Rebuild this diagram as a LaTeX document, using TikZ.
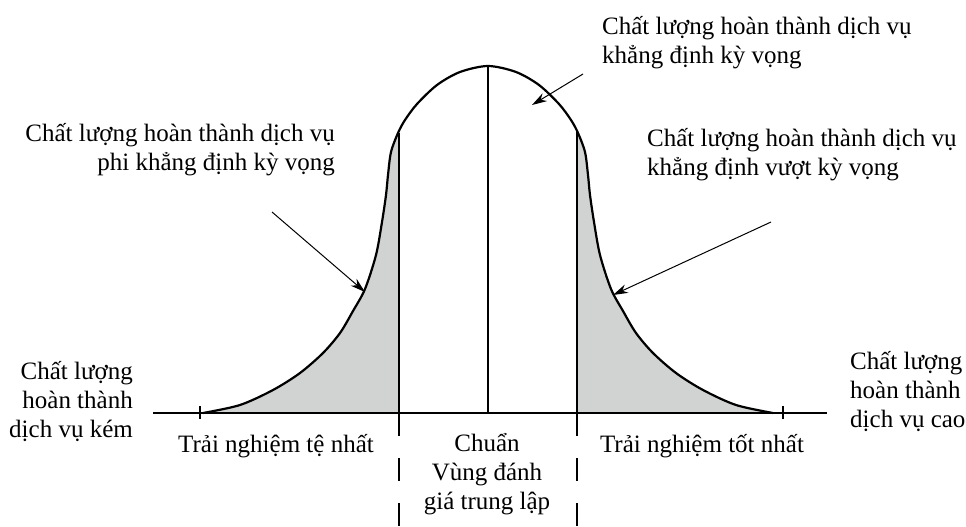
\documentclass[tikz,border=0pt]{standalone}
\usepackage{fontspec}
\setmainfont{Liberation Serif}
\usetikzlibrary{arrows.meta}
\definecolor{shadegray}{RGB}{209,210,210}
\tikzset{
  lbl/.style={font=\fontsize{25}{29}\selectfont, inner sep=0pt},
  curveline/.style={line width=2.2pt, line join=round},
  bar/.style={line width=2.2pt},
  sepline/.style={line width=2pt, dash pattern=on 23pt off 22pt},
  pointer/.style={line width=1pt, -{Stealth[length=15pt,width=9pt]}},
}
\begin{document}
\begin{tikzpicture}[x=1pt,y=-1pt]
\useasboundingbox (0,0) rectangle (966,527);

% shaded tails
\begin{scope}
\clip (0,0) rectangle (399,413) (577,0) rectangle (966,413);
\fill[shadegray] plot[smooth,tension=0.5] coordinates {(203,413) (240,405) (273,390) (300,373) (323,353) (340,333) (353,311) (365,289) (376,255) (382,222) (386,195) (388,175) (391,152) (398,133) (405,120) (417,104) (437,85) (460,72) (488,66) (516,72) (539,85) (559,104) (571,120) (578,133) (585,152) (588,175) (590,195) (594,222) (600,255) (611,289) (623,311) (636,333) (653,353) (676,373) (703,390) (736,405) (773,413)} -- cycle;
\end{scope}

% bell curve
\draw[curveline] plot[smooth,tension=0.5] coordinates {(203,413) (240,405) (273,390) (300,373) (323,353) (340,333) (353,311) (365,289) (376,255) (382,222) (386,195) (388,175) (391,152) (398,133) (405,120) (417,104) (437,85) (460,72) (488,66) (516,72) (539,85) (559,104) (571,120) (578,133) (585,152) (588,175) (590,195) (594,222) (600,255) (611,289) (623,311) (636,333) (653,353) (676,373) (703,390) (736,405) (773,413)};

% axis
\coordinate (axL) at (153,413);
\coordinate (axR) at (827,413);
\draw[bar] (axL) -- (axR);
\coordinate (t1a) at (200,406); \coordinate (t1b) at (200,419);
\coordinate (t2a) at (783,406); \coordinate (t2b) at (783,419);
\draw[bar] (t1a) -- (t1b);
\draw[bar] (t2a) -- (t2b);

% vertical bars
\coordinate (vLb) at (399,413); \coordinate (vLt) at (399,133);
\coordinate (vCb) at (488,413); \coordinate (vCt) at (488,66);
\coordinate (vRb) at (577,413); \coordinate (vRt) at (577,131);
\draw[bar] (vLb) -- (vLt);
\draw[bar] (vCb) -- (vCt);
\draw[bar] (vRb) -- (vRt);

% dashed separators
\coordinate (dL) at (399,527); \coordinate (dR) at (577,527);
\draw[sepline] (vLb) -- (dL);
\draw[sepline] (vRb) -- (dR);

% labels
\node[lbl, align=left, anchor=west] (top) at (602,43) {Chất lượng hoàn thành dịch vụ\\khẳng định kỳ vọng};
\node[lbl, align=right, anchor=east] (poor) at (335,150) {Chất lượng hoàn thành dịch vụ\\phi khẳng định kỳ vọng};
\node[lbl, align=left, anchor=west] (over) at (647,155) {Chất lượng hoàn thành dịch vụ\\khẳng định vượt kỳ vọng};
\node[lbl, align=right, anchor=east] (low) at (133,402) {Chất lượng\\hoàn thành\\dịch vụ kém};
\node[lbl, align=left, anchor=west] (high) at (850,392) {Chất lượng\\hoàn thành\\dịch vụ cao};
\node[lbl] (worst) at (276,446) {Trải nghiệm tệ nhất};
\node[lbl] (best) at (702,446) {Trải nghiệm tốt nhất};
\node[lbl, align=center] (norm) at (487,474) {Chuẩn\\Vùng đánh\\giá trung lập};

% pointers
\coordinate (p1s) at (583,74); \coordinate (p1e) at (532,105);
\coordinate (p2s) at (272,212); \coordinate (p2e) at (365,292);
\coordinate (p3s) at (771,222); \coordinate (p3e) at (613,295);
\draw[pointer] (p1s) -- (p1e);
\draw[pointer] (p2s) -- (p2e);
\draw[pointer] (p3s) -- (p3e);
\end{tikzpicture}
\end{document}
